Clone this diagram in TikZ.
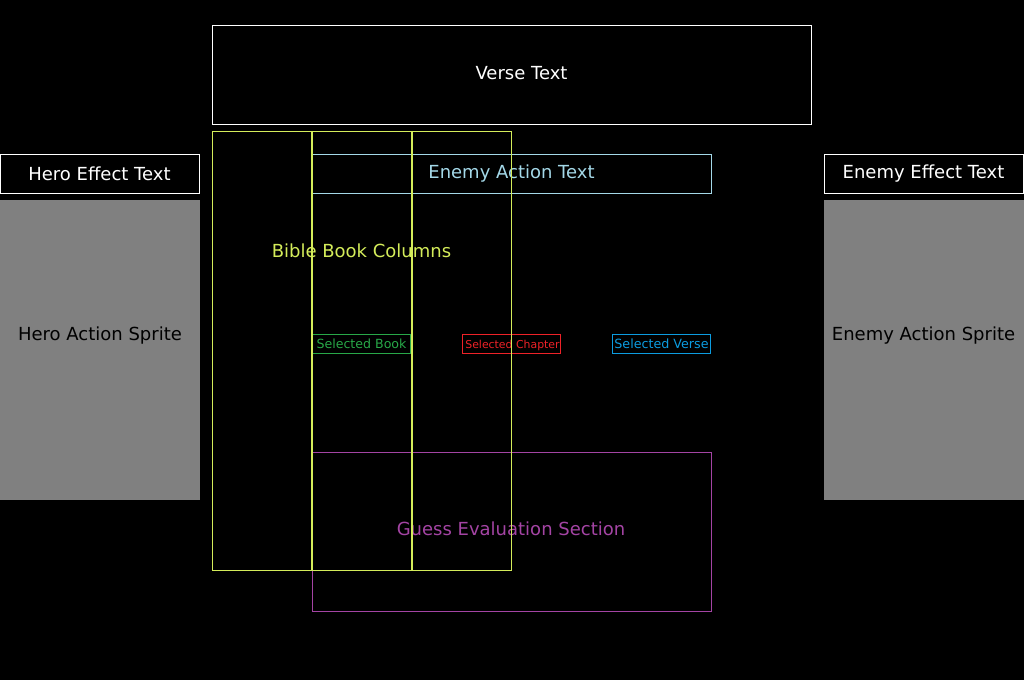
\documentclass[tikz,border=0pt]{standalone}
\usepackage{fontspec}
\setmainfont{DejaVu Sans}
\usetikzlibrary{positioning}
\definecolor{cCol}{HTML}{D4EC5A}
\definecolor{cEnemy}{HTML}{A4D8E8}
\definecolor{cBook}{HTML}{28A848}
\definecolor{cChap}{HTML}{EE2228}
\definecolor{cVerse}{HTML}{0C9CE0}
\definecolor{cGuess}{HTML}{A444A4}
\definecolor{cSprite}{HTML}{808080}

\begin{document}
\begin{tikzpicture}[
    x=1pt, y=-1pt, font=\fontsize{18}{21}\selectfont,
    panel/.style={draw=white, line width=1pt, text=white, inner sep=0pt},
    sprite/.style={fill=cSprite, inner sep=0pt,
                   minimum width=200pt, minimum height=300pt},
    column/.style={draw=cCol, line width=1pt, inner sep=0pt,
                   minimum width=99pt, minimum height=439pt},
    sel/.style={line width=1pt, inner sep=0pt,
                minimum width=98pt, minimum height=19pt},
]
\fill[black] (0,0) rectangle (1024,680);
\useasboundingbox (0,0) rectangle (1024,680);

% ===================== Verse =====================
\node[panel, minimum width=599pt, minimum height=99pt] (verse) at (511.5,74.5) {};
\node[text=white] (versename) at (521.5,73.5) {Verse Text};

% ===================== Hero (izquierda) =====================
\node[panel, minimum width=199pt, minimum height=39pt] (heroeff) at (99.5,173.5) {Hero Effect Text};
\node[sprite] (herospr) at (100,350) {};
\node[text=black, anchor=base] (heroname) at (100,340) {Hero Action Sprite};

% ===================== Enemy (derecha) =====================
\node[panel, minimum width=199pt, minimum height=39pt] (enemyeff) at (923.5,173.5) {Enemy Effect Text};
\node[sprite] (enemyspr) at (924,350) {};
\node[text=black, anchor=base] (enemyname) at (923.5,340) {Enemy Action Sprite};
\node[draw=cEnemy, line width=1pt, text=cEnemy, inner sep=0pt,
      minimum width=399pt, minimum height=39pt] (enemyact) at (511.5,173.5) {Enemy Action Text};

% ===================== Seleccion =====================
\node[sel, draw=cBook, text=cBook, font=\fontsize{12.6}{14}\selectfont] (book) at (361.5,343.5) {Selected Book};
\node[sel, draw=cChap] (chap) at (511.5,343.5) {};
\node[text=cChap, font=\fontsize{10.9}{12}\selectfont, anchor=base, inner sep=0pt] (chapname) at (512.5,348) {Selected Chapter};
\node[sel, draw=cVerse, text=cVerse, font=\fontsize{12.7}{14}\selectfont] (vsel) at (661.5,343.5) {Selected Verse};

% ===================== Evaluacion =====================
\node[draw=cGuess, line width=1pt, inner sep=0pt,
      minimum width=399pt, minimum height=159pt] (guess) at (511.5,531.5) {};
\node[text=cGuess] (guessname) at (511,529) {Guess Evaluation Section};

% ===================== Columnas de libros =====================
\node[text=cCol] (colname) at (361.5,251) {Bible Book Columns};
\foreach \i/\cx in {1/262,2/362,3/462}{
    \node[column] (col\i) at (\cx,350.5) {};
}

\end{tikzpicture}
\end{document}
